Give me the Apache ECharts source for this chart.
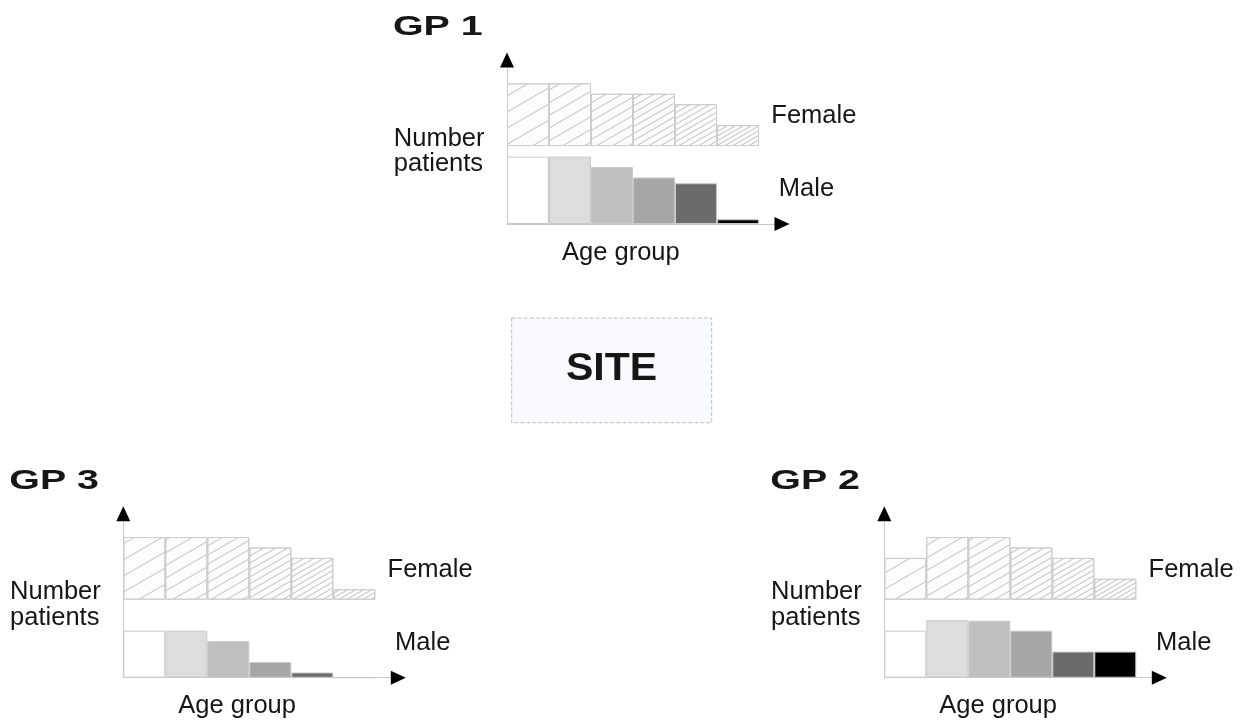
<!DOCTYPE html>
<html>
<head>
<meta charset="utf-8">
<script src="https://cdn.jsdelivr.net/npm/echarts@6/dist/echarts.min.js"></script>
<style>
html,body{margin:0;padding:0;background:#ffffff;}
#chart{width:1243px;height:721px;}
</style>
</head>
<body>
<div id="chart"></div>
<script>
// ---------------- data ----------------
const ageGroups = ['Age 1', 'Age 2', 'Age 3', 'Age 4', 'Age 5', 'Age 6'];
const gpNames = ['GP 1', 'GP 2', 'GP 3'];
const gp1Female = [6, 6, 5, 5, 4, 2];
const gp1Male = [6.45, 6.45, 5.45, 4.45, 3.9, 0.45];
const gp2Female = [4, 6, 6, 5, 4, 2];
const gp2Male = [4.5, 5.5, 5.45, 4.5, 2.5, 2.5];
const gp3Female = [6, 6, 6, 5, 4, 1];
const gp3Male = [4.5, 4.5, 3.5, 1.5, 0.5, 0];
const siteLabel = 'SITE';
const yLabel = 'Number\npatients';
const xLabel = 'Age group';
const femaleLabel = 'Female';
const maleLabel = 'Male';

// ---------------- styles / layout ----------------
const maleShades = ['#ffffff', '#dcdddc', '#bfbfbf', '#a6a6a6', '#6b6b6b', '#000000'];
const femaleHatchGap = [14, 10.5, 7.5, 5.5, 4.2, 3.2];
const PX_PER_UNIT = 10.45;
const BAR_W = 42;
const FEMALE_BASE = 78;
const FEMALE_H = 100;
const TIP_Y = 171.5;
const TIP_X = 282.5;
const ARROW_LEN = 15;
const ARROW_W = 14;
const FONT = '"Liberation Sans", Arial, sans-serif';
const TEXT_COLOR = '#161616';

const panels = [
  { name: gpNames[0], ox: 507, oy: 224, female: gp1Female, male: gp1Male },
  { name: gpNames[1], ox: 884.3, oy: 677.7, female: gp2Female, male: gp2Male },
  { name: gpNames[2], ox: 123.3, oy: 677.7, female: gp3Female, male: gp3Male }
];

const grids = [], xAxes = [], yAxes = [], series = [], graphics = [];
const PLOT_W = BAR_W * ageGroups.length;

const hiddenAxis = { show: false };
function lineAxis(gridIndex, color, arrow, z) {
  return {
    type: 'value', gridIndex: gridIndex, min: 0, max: 1, z: z,
    axisLine: arrow ? {
      show: true, onZero: false, symbol: ['none', 'triangle'],
      symbolSize: [ARROW_W, ARROW_LEN],
      lineStyle: { color: color, width: 0 }
    } : {
      show: true, onZero: false, lineStyle: { color: color, width: 1 }
    },
    axisTick: { show: false }, axisLabel: { show: false }, splitLine: { show: false }
  };
}

function txt(x, y, text, font, opts) {
  opts = opts || {};
  const el = {
    type: 'text', x: x, y: y, z: 10,
    style: {
      text: text, font: font, fill: TEXT_COLOR,
      textAlign: opts.align || 'left', align: opts.align || 'left',
      textVerticalAlign: 'middle', verticalAlign: 'middle',
      lineHeight: opts.lineHeight
    }
  };
  if (opts.scaleX) { el.scaleX = opts.scaleX; }
  return el;
}

panels.forEach(function (p) {
  const gi = grids.length;
  // male bars grid
  grids.push({ left: p.ox, top: p.oy - FEMALE_BASE, width: PLOT_W, height: FEMALE_BASE });
  xAxes.push(Object.assign({ type: 'category', data: ageGroups, gridIndex: gi }, hiddenAxis));
  yAxes.push(Object.assign({ type: 'value', gridIndex: gi, min: 0, max: FEMALE_BASE / PX_PER_UNIT }, hiddenAxis));
  // female bars grid
  grids.push({ left: p.ox, top: p.oy - FEMALE_BASE - FEMALE_H, width: PLOT_W, height: FEMALE_H });
  xAxes.push(Object.assign({ type: 'category', data: ageGroups, gridIndex: gi + 1 }, hiddenAxis));
  yAxes.push(Object.assign({ type: 'value', gridIndex: gi + 1, min: 0, max: FEMALE_H / PX_PER_UNIT }, hiddenAxis));
  // axis line grids (gray lines + black arrow heads)
  const box = { left: p.ox, top: p.oy - TIP_Y + ARROW_LEN / 2, width: TIP_X - ARROW_LEN / 2, height: TIP_Y - ARROW_LEN / 2 };
  grids.push(Object.assign({}, box));
  grids.push(Object.assign({}, box));
  xAxes.push(lineAxis(gi + 2, '#c9c9c9', false, 1));
  yAxes.push(lineAxis(gi + 2, '#c9c9c9', false, 1));
  xAxes.push(lineAxis(gi + 3, '#000000', true, 5));
  yAxes.push(lineAxis(gi + 3, '#000000', true, 5));

  series.push({
    type: 'bar', name: p.name + ' ' + maleLabel, xAxisIndex: gi, yAxisIndex: gi,
    barCategoryGap: '0%', silent: true,
    itemStyle: { borderColor: '#c9c9c9', borderWidth: 1 },
    data: p.male.map(function (v, k) { return { value: v, itemStyle: { color: maleShades[k] } }; })
  });
  series.push({
    type: 'bar', name: p.name + ' ' + femaleLabel, xAxisIndex: gi + 1, yAxisIndex: gi + 1,
    barCategoryGap: '0%', silent: true,
    itemStyle: { color: '#fdfdfd', borderColor: '#cdcdcd', borderWidth: 1 },
    data: p.female.map(function (v, k) {
      return {
        value: v,
        itemStyle: {
          decal: {
            symbol: 'rect', symbolSize: 1, color: '#c4c4c4',
            dashArrayX: [1, 0], dashArrayY: [1, femaleHatchGap[k] - 1],
            rotation: -Math.PI / 6
          }
        }
      };
    })
  });

  // texts
  graphics.push(txt(p.ox - 114, p.oy - 196.5, p.name, 'bold 28.5px ' + FONT, { scaleX: 1.38 }));
  graphics.push(txt(p.ox - 113.2, p.oy - 72.5, yLabel, '25.5px ' + FONT, { lineHeight: 25.5 }));
  graphics.push(txt(p.ox + 264.3, p.oy - 108.2, femaleLabel, '25.5px ' + FONT));
  graphics.push(txt(p.ox + 271.8, p.oy - 35.2, maleLabel, '25.5px ' + FONT));
  graphics.push(txt(p.ox + 55, p.oy + 28.7, xLabel, '25.5px ' + FONT));
});

// SITE box
graphics.push({
  type: 'rect', z: 5,
  shape: { x: 511.7, y: 318, width: 200, height: 104.7 },
  style: { fill: '#f9fafd', stroke: '#bdbdbd', lineWidth: 1, lineDash: [4, 2] }
});
graphics.push(txt(611.6, 370, siteLabel, 'bold 38px ' + FONT, { align: 'center', scaleX: 1.08 }));

const chart = echarts.init(document.getElementById('chart'), null, { renderer: 'canvas' });
chart.setOption({
  animation: false,
  backgroundColor: '#ffffff',
  grid: grids,
  xAxis: xAxes,
  yAxis: yAxes,
  series: series,
  graphic: { elements: graphics }
});
</script>
</body>
</html>
